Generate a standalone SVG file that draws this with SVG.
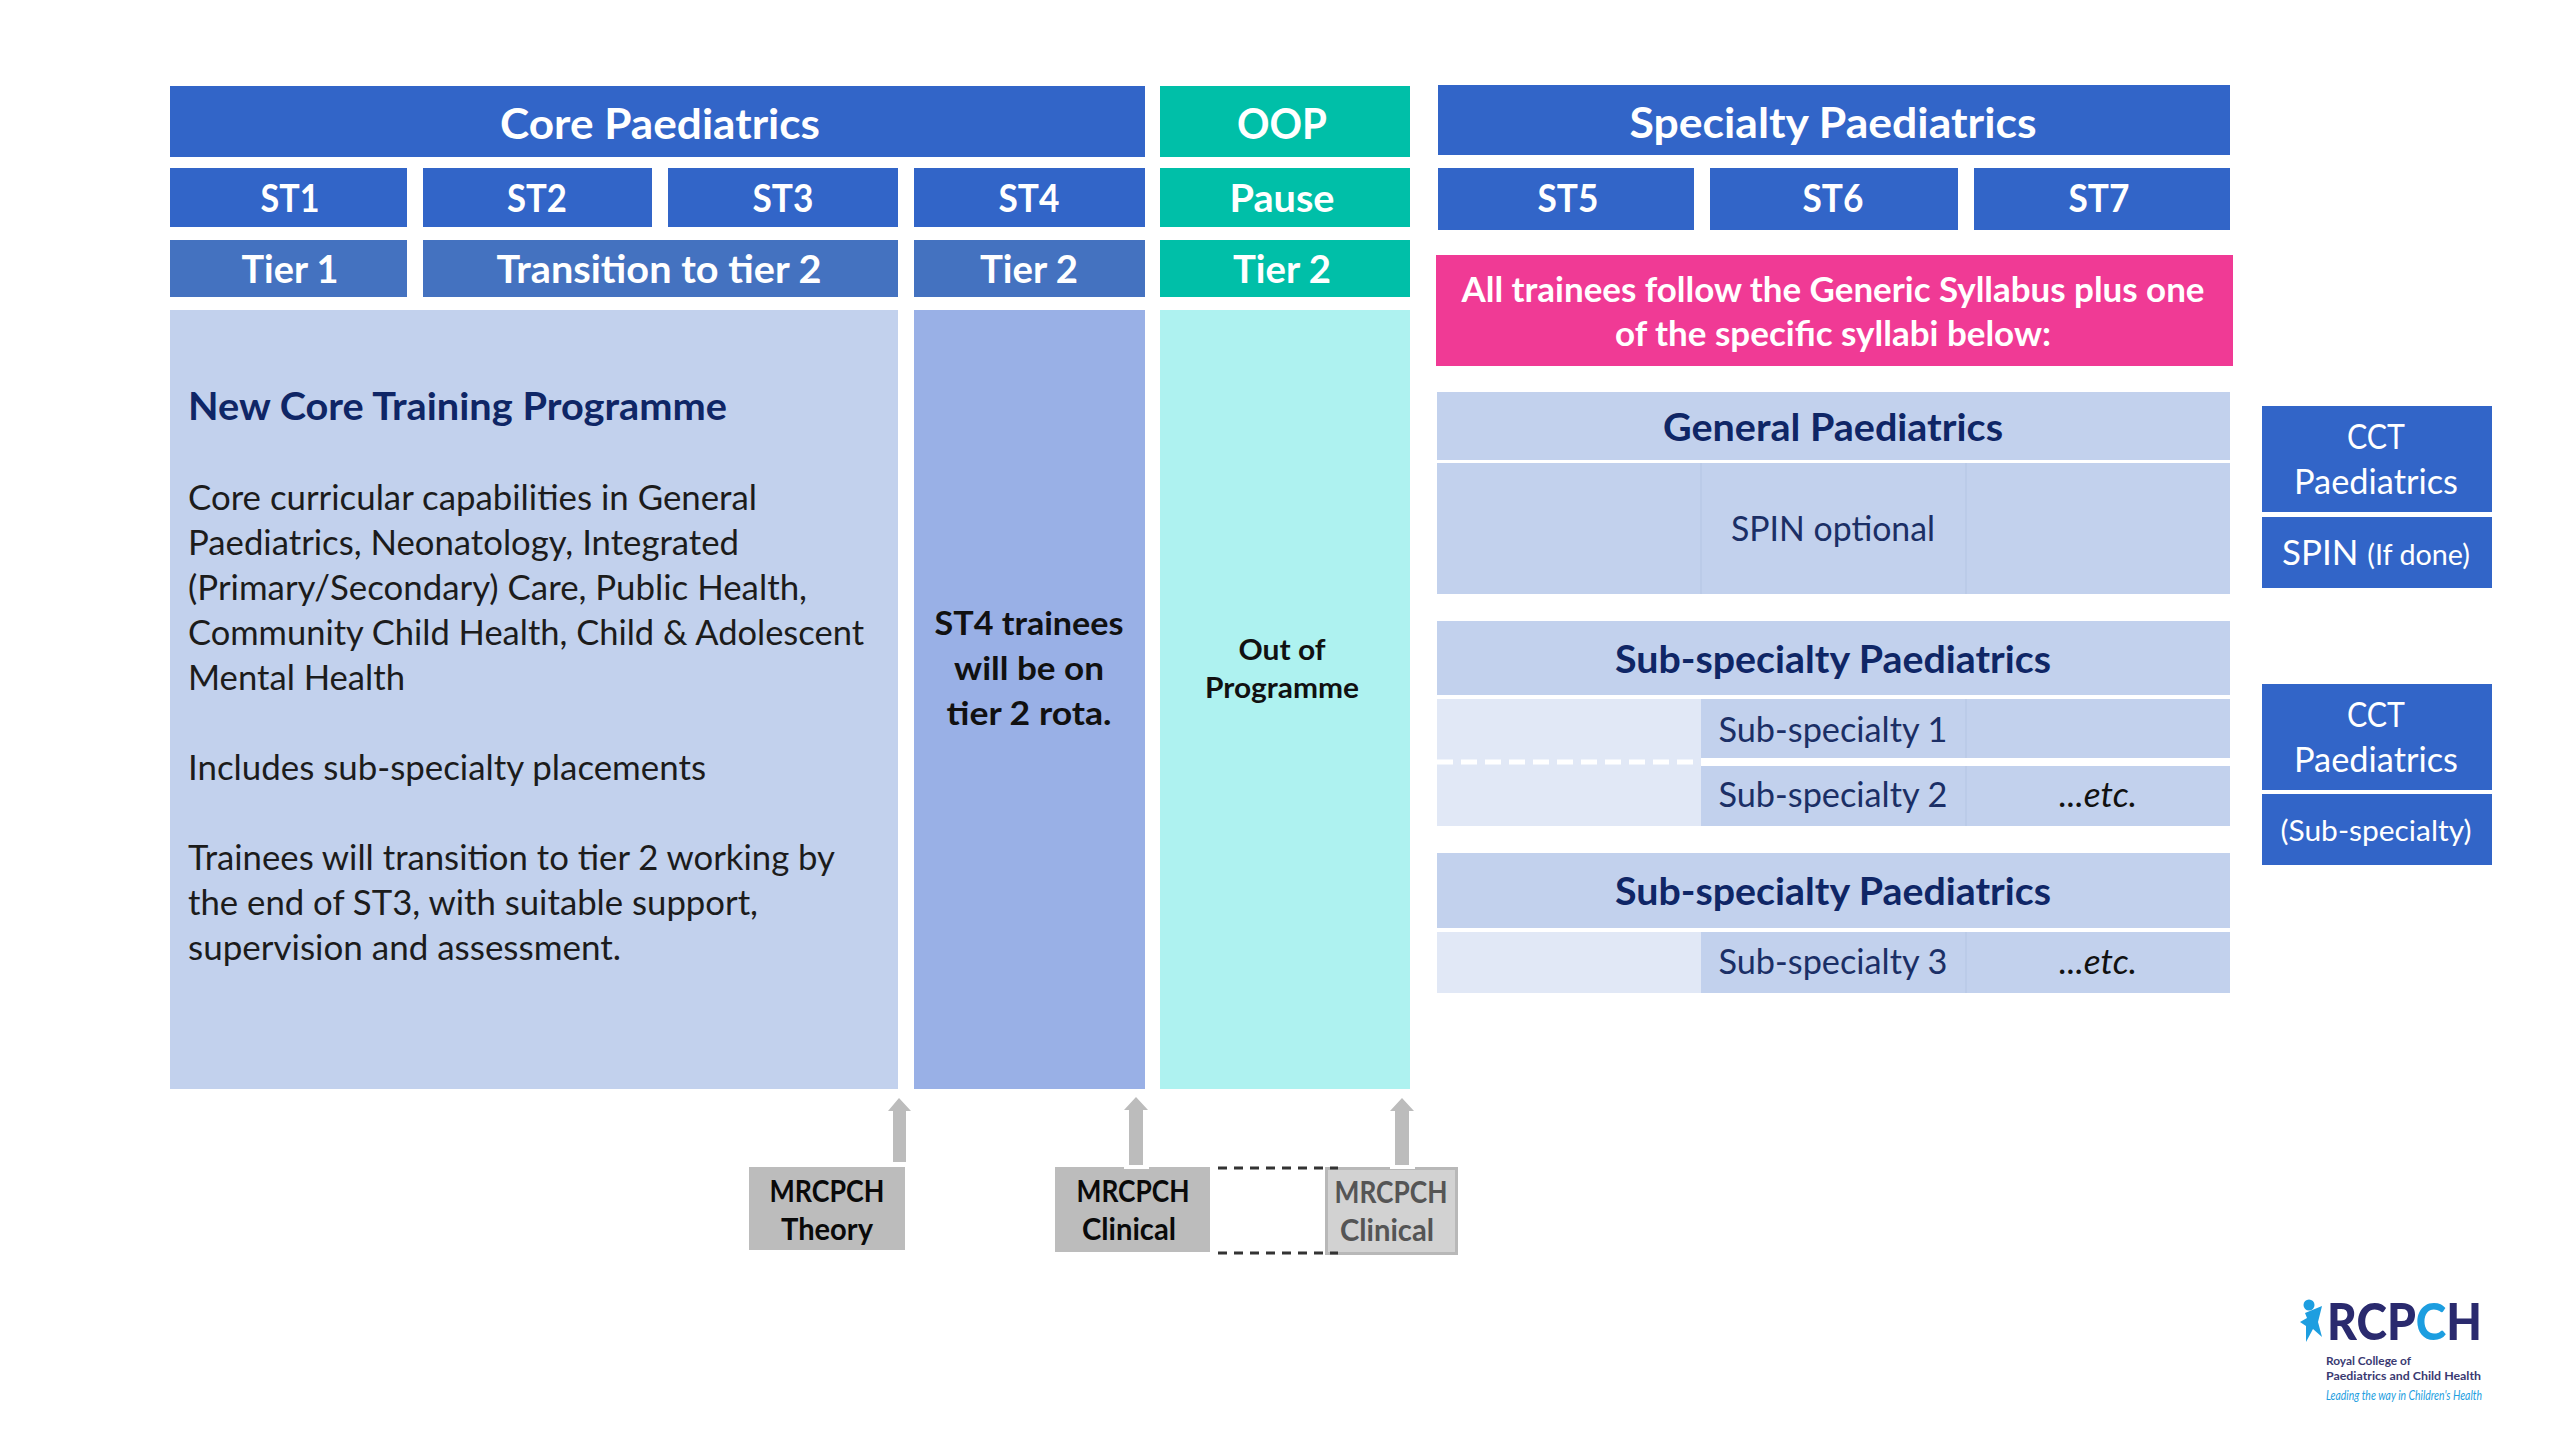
<svg xmlns="http://www.w3.org/2000/svg" width="2560" height="1440" viewBox="0 0 2560 1440">
<style>
text{font-family:Lato,"Open Sans","Liberation Sans",sans-serif}
.m{text-anchor:middle}
.w{fill:#fff}
.b{font-weight:700}
.h{font-size:42px;font-weight:700;fill:#fff}
.h2{font-size:39px;font-weight:700;fill:#fff}
.d{fill:#3265c8}
.t{fill:#4472c0}
.g{fill:#00bfa8}
.l{fill:#c2d1ed}
.p{fill:#e1e8f6}
.body{font-size:34px;fill:#1c1c1c}
.nh{font-size:38px;font-weight:700;fill:#0f2666}
.ns{font-size:34px;fill:#1b2f66}
.it{font-size:34px;font-style:italic;fill:#111}
.cct{font-size:34px;fill:#fff}
.mr{font-size:31px;font-weight:700;fill:#0a0a0a}
.mf{font-size:31px;font-weight:700;fill:#555}
.div{stroke:#b8c8e6;stroke-width:1.5}
</style>
<rect width="2560" height="1440" fill="#fff"/>

<g id="core">
<rect class="d" x="170" y="86" width="975" height="71"/>
<text class="h m" x="660" y="139" textLength="320" lengthAdjust="spacingAndGlyphs">Core Paediatrics</text>
</g>
<g id="oop">
<rect class="g" x="1160" y="86" width="250" height="71"/>
<text class="h m" x="1282" y="139" textLength="90" lengthAdjust="spacingAndGlyphs">OOP</text>
</g>
<g id="specialty">
<rect class="d" x="1438" y="85" width="792" height="70"/>
<text class="h m" x="1833" y="138" textLength="407" lengthAdjust="spacingAndGlyphs">Specialty Paediatrics</text>
</g>

<g id="st1"><rect class="d" x="170" y="168" width="237" height="59"/><text class="h2 m" x="290" y="212" textLength="59" lengthAdjust="spacingAndGlyphs">ST1</text></g>
<g id="st2"><rect class="d" x="423" y="168" width="229" height="59"/><text class="h2 m" x="537" y="212" textLength="60" lengthAdjust="spacingAndGlyphs">ST2</text></g>
<g id="st3"><rect class="d" x="668" y="168" width="230" height="59"/><text class="h2 m" x="783" y="212" textLength="61" lengthAdjust="spacingAndGlyphs">ST3</text></g>
<g id="st4"><rect class="d" x="914" y="168" width="231" height="59"/><text class="h2 m" x="1029" y="212" textLength="61" lengthAdjust="spacingAndGlyphs">ST4</text></g>
<g id="pause"><rect class="g" x="1160" y="168" width="250" height="59"/><text class="h2 m" x="1282" y="212" textLength="105" lengthAdjust="spacingAndGlyphs">Pause</text></g>
<g id="st5"><rect class="d" x="1438" y="168" width="256" height="62"/><text class="h2 m" x="1568" y="212" textLength="61" lengthAdjust="spacingAndGlyphs">ST5</text></g>
<g id="st6"><rect class="d" x="1710" y="168" width="248" height="62"/><text class="h2 m" x="1833" y="212" textLength="61" lengthAdjust="spacingAndGlyphs">ST6</text></g>
<g id="st7"><rect class="d" x="1974" y="168" width="256" height="62"/><text class="h2 m" x="2099" y="212" textLength="61" lengthAdjust="spacingAndGlyphs">ST7</text></g>

<g id="tier1"><rect class="t" x="170" y="240" width="237" height="57"/><text class="h2 m" x="290" y="283" textLength="97" lengthAdjust="spacingAndGlyphs">Tier 1</text></g>
<g id="transition"><rect class="t" x="423" y="240" width="475" height="57"/><text class="h2 m" x="659" y="283" textLength="325" lengthAdjust="spacingAndGlyphs">Transition to tier 2</text></g>
<g id="tier2"><rect class="t" x="914" y="240" width="231" height="57"/><text class="h2 m" x="1029" y="283" textLength="98" lengthAdjust="spacingAndGlyphs">Tier 2</text></g>
<g id="tier2oop"><rect class="g" x="1160" y="240" width="250" height="57"/><text class="h2 m" x="1282" y="283" textLength="98" lengthAdjust="spacingAndGlyphs">Tier 2</text></g>

<g id="programme">
<rect class="l" x="170" y="310" width="728" height="779"/>
<text class="nh" x="188" y="420" textLength="539" lengthAdjust="spacingAndGlyphs">New Core Training Programme</text>
<text class="body" x="188" y="510" textLength="569" lengthAdjust="spacingAndGlyphs">Core curricular capabilities in General</text>
<text class="body" x="188" y="555" textLength="551" lengthAdjust="spacingAndGlyphs">Paediatrics, Neonatology, Integrated</text>
<text class="body" x="188" y="600" textLength="619" lengthAdjust="spacingAndGlyphs">(Primary/Secondary) Care, Public Health,</text>
<text class="body" x="188" y="645" textLength="676" lengthAdjust="spacingAndGlyphs">Community Child Health, Child &amp; Adolescent</text>
<text class="body" x="188" y="690" textLength="217" lengthAdjust="spacingAndGlyphs">Mental Health</text>
<text class="body" x="188" y="780" textLength="518" lengthAdjust="spacingAndGlyphs">Includes sub-specialty placements</text>
<text class="body" x="188" y="870" textLength="647" lengthAdjust="spacingAndGlyphs">Trainees will transition to tier 2 working by</text>
<text class="body" x="188" y="915" textLength="570" lengthAdjust="spacingAndGlyphs">the end of ST3, with suitable support,</text>
<text class="body" x="188" y="960" textLength="433" lengthAdjust="spacingAndGlyphs">supervision and assessment.</text>
</g>
<g id="st4-panel">
<rect x="914" y="310" width="231" height="779" fill="#99b0e6"/>
<text class="b m" font-size="33" fill="#111" x="1029" y="635" textLength="189" lengthAdjust="spacingAndGlyphs">ST4 trainees</text>
<text class="b m" font-size="33" fill="#111" x="1029" y="680" textLength="150" lengthAdjust="spacingAndGlyphs">will be on</text>
<text class="b m" font-size="33" fill="#111" x="1029" y="725" textLength="165" lengthAdjust="spacingAndGlyphs">tier 2 rota.</text>
</g>
<g id="oop-panel">
<rect x="1160" y="310" width="250" height="779" fill="#aef2f0"/>
<text class="b m" font-size="28" fill="#111" x="1282" y="660" textLength="87" lengthAdjust="spacingAndGlyphs">Out of</text>
<text class="b m" font-size="28" fill="#111" x="1282" y="698" textLength="154" lengthAdjust="spacingAndGlyphs">Programme</text>
</g>

<g id="syllabus-note">
<rect x="1436" y="255" width="797" height="111" fill="#f03a95"/>
<text class="b m w" font-size="34" x="1833" y="302" textLength="743" lengthAdjust="spacingAndGlyphs">All trainees follow the Generic Syllabus plus one</text>
<text class="b m w" font-size="34" x="1833" y="346" textLength="436" lengthAdjust="spacingAndGlyphs">of the specific syllabi below:</text>
</g>

<g id="general">
<rect class="l" x="1437" y="392" width="793" height="68"/>
<text class="nh m" x="1833" y="441" textLength="340" lengthAdjust="spacingAndGlyphs">General Paediatrics</text>
<rect class="l" x="1437" y="463" width="793" height="131"/>
<line class="div" x1="1701" y1="463" x2="1701" y2="594"/>
<line class="div" x1="1966" y1="463" x2="1966" y2="594"/>
<text class="ns m" x="1833" y="541" textLength="204" lengthAdjust="spacingAndGlyphs">SPIN optional</text>
</g>

<g id="subspecialty-a">
<rect class="l" x="1437" y="621" width="793" height="74"/>
<text class="nh m" x="1833" y="673" textLength="436" lengthAdjust="spacingAndGlyphs">Sub-specialty Paediatrics</text>
<rect class="p" x="1437" y="699" width="264" height="127"/>
<rect class="l" x="1701" y="699" width="529" height="59"/>
<rect class="l" x="1701" y="766" width="529" height="60"/>
<line class="div" x1="1966" y1="699" x2="1966" y2="758"/>
<line class="div" x1="1966" y1="766" x2="1966" y2="826"/>
<line x1="1437" y1="762" x2="1701" y2="762" stroke="#fff" stroke-width="5" stroke-dasharray="16 8"/>
<text class="ns m" x="1833" y="742" textLength="229" lengthAdjust="spacingAndGlyphs">Sub-specialty 1</text>
<text class="ns m" x="1833" y="807" textLength="229" lengthAdjust="spacingAndGlyphs">Sub-specialty 2</text>
<text class="it m" x="2098" y="807" textLength="78" lengthAdjust="spacingAndGlyphs">...etc.</text>
</g>

<g id="subspecialty-b">
<rect class="l" x="1437" y="853" width="793" height="75"/>
<text class="nh m" x="1833" y="905" textLength="436" lengthAdjust="spacingAndGlyphs">Sub-specialty Paediatrics</text>
<rect class="p" x="1437" y="932" width="264" height="61"/>
<rect class="l" x="1701" y="932" width="529" height="61"/>
<line class="div" x1="1966" y1="932" x2="1966" y2="993"/>
<text class="ns m" x="1833" y="974" textLength="229" lengthAdjust="spacingAndGlyphs">Sub-specialty 3</text>
<text class="it m" x="2098" y="974" textLength="78" lengthAdjust="spacingAndGlyphs">...etc.</text>
</g>

<g id="cct-general">
<rect class="d" x="2262" y="406" width="230" height="106"/>
<text class="cct m" x="2376" y="449" textLength="58" lengthAdjust="spacingAndGlyphs">CCT</text>
<text class="cct m" x="2376" y="494" textLength="164" lengthAdjust="spacingAndGlyphs">Paediatrics</text>
</g>
<g id="cct-spin">
<rect class="d" x="2262" y="517" width="230" height="71"/>
<text class="cct m" x="2376" y="565" textLength="188" lengthAdjust="spacingAndGlyphs">SPIN <tspan font-size="28" style="font-size:28px">(If done)</tspan></text>
</g>
<g id="cct-sub">
<rect class="d" x="2262" y="684" width="230" height="106"/>
<text class="cct m" x="2376" y="727" textLength="58" lengthAdjust="spacingAndGlyphs">CCT</text>
<text class="cct m" x="2376" y="772" textLength="164" lengthAdjust="spacingAndGlyphs">Paediatrics</text>
</g>
<g id="cct-subspecialty">
<rect class="d" x="2262" y="794" width="230" height="71"/>
<text class="cct m" style="font-size:28px" x="2376" y="841" textLength="191" lengthAdjust="spacingAndGlyphs">(Sub-specialty)</text>
</g>

<g id="mrcpch-theory">
<rect x="749" y="1167" width="156" height="83" fill="#bcbcbc"/>
<text class="mr m" x="827" y="1202" textLength="115" lengthAdjust="spacingAndGlyphs">MRCPCH</text>
<text class="mr m" x="827" y="1240" textLength="92" lengthAdjust="spacingAndGlyphs">Theory</text>
</g>
<g id="mrcpch-clinical">
<rect x="1055" y="1167" width="155" height="85" fill="#bcbcbc"/>
<text class="mr m" x="1133" y="1202" textLength="113" lengthAdjust="spacingAndGlyphs">MRCPCH</text>
<text class="mr m" x="1129" y="1240" textLength="94" lengthAdjust="spacingAndGlyphs">Clinical</text>
</g>
<g id="mrcpch-clinical-oop">
<rect x="1326.5" y="1168.5" width="130" height="85" fill="#d2d2d2" stroke="#b8b8b8" stroke-width="3"/>
<text class="mf m" x="1391" y="1203" textLength="113" lengthAdjust="spacingAndGlyphs">MRCPCH</text>
<text class="mf m" x="1387" y="1241" textLength="94" lengthAdjust="spacingAndGlyphs">Clinical</text>
</g>

<g id="connectors">
<path fill="#bcbcbc" d="M899 1098L911 1111H906V1162H893V1111H888Z"/>
<rect x="1124" y="1164" width="25" height="5" fill="#fff"/>
<path fill="#bcbcbc" d="M1136 1097L1148 1110H1143V1165H1129V1110H1124Z"/>
<rect x="1390" y="1164" width="25" height="5" fill="#fff"/>
<path fill="#bcbcbc" d="M1402 1098L1414 1111H1409V1165H1395V1111H1390Z"/>
<g fill="none" stroke="#333" stroke-width="3" stroke-dasharray="9 7">
<line x1="1218" y1="1168" x2="1338" y2="1168"/>
<line x1="1218" y1="1253" x2="1338" y2="1253"/>
</g>
</g>

<g id="logo">
<circle cx="2309" cy="1305" r="5.5" fill="#1d9ee0"/>
<path fill="#1d9ee0" d="M2305 1313L2322 1306L2318 1322L2322 1337L2313 1329L2306 1342L2306 1326L2300 1322L2307 1318Z"/>
<text x="2327" y="1340" font-size="52" font-weight="900" fill="#2a2a6e" textLength="155" lengthAdjust="spacingAndGlyphs">RCP<tspan fill="#1d9ee0">C</tspan>H</text>
<text x="2326" y="1365" font-size="12" font-weight="700" fill="#3a3a72" textLength="85" lengthAdjust="spacingAndGlyphs">Royal College of</text>
<text x="2326" y="1380" font-size="12" font-weight="700" fill="#3a3a72" textLength="155" lengthAdjust="spacingAndGlyphs">Paediatrics and Child Health</text>
<text x="2326" y="1400" font-size="13" font-style="italic" fill="#1d9ee0" textLength="156" lengthAdjust="spacingAndGlyphs">Leading the way in Children's Health</text>
</g>
</svg>
